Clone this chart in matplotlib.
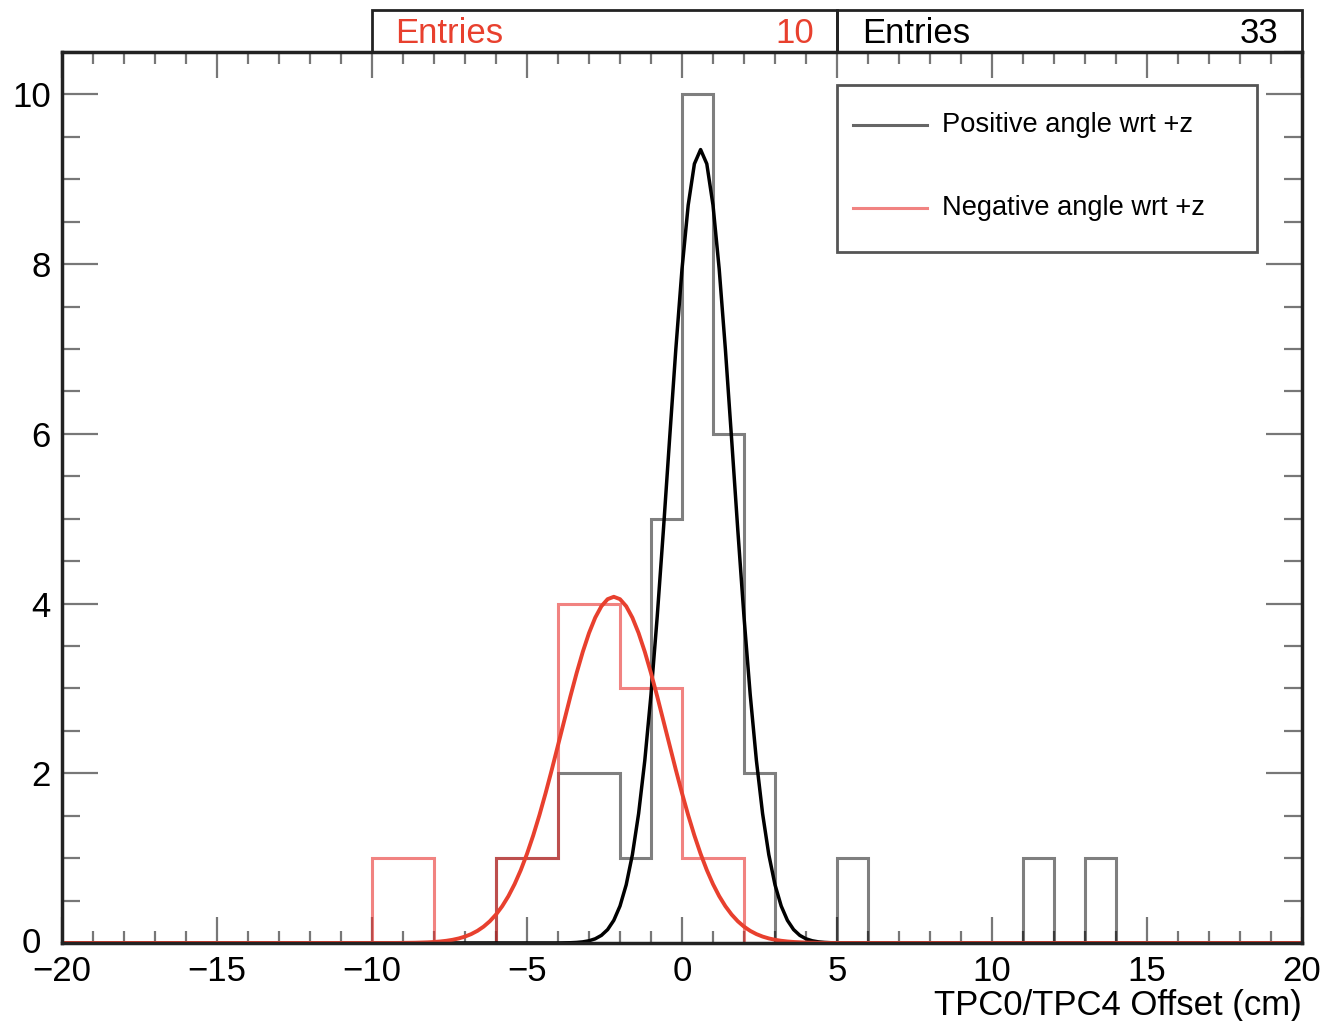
import numpy as np
import matplotlib.pyplot as plt
from matplotlib.patches import Rectangle
from matplotlib.ticker import MultipleLocator
import matplotlib.transforms as mtransforms

plt.rcParams['font.family'] = ['Liberation Sans', 'DejaVu Sans']

# histogram binning
edges_pos = np.arange(-20, 21, 1)   # 40 bins, width 1
edges_neg = np.arange(-20, 21, 2)   # 20 bins, width 2

# counts, positive angle (black), bins -20..20 step 1
counts_pos = [0, 0, 0, 0, 0, 0, 0, 0, 0, 0,
              0, 0, 0, 0, 1, 1, 2, 2, 1, 5,
              10, 6, 2, 0, 0, 1, 0, 0, 0, 0,
              0, 1, 0, 1, 0, 0, 0, 0, 0, 0]
# counts, negative angle (red), bins -20..20 step 2
counts_neg = [0, 0, 0, 0, 0, 1, 0, 1, 4, 3,
              1, 0, 0, 0, 0, 0, 0, 0, 0, 0]

# gaussian fit parameters (amplitude, mean, sigma)
fit_pos = (9.35, 0.6, 1.05)
fit_neg = (4.08, -2.2, 1.7)

entries_pos = 33
entries_neg = 10
labels = ["Positive angle wrt +z", "Negative angle wrt +z"]

red = '#e8402e'

fig = plt.figure(figsize=(13.22, 10.21), dpi=100)
ax = fig.add_axes([62/1322, 1-943/1021, (1302-62)/1322, (943-52)/1021])

ax.stairs(counts_pos, edges_pos, color='black', alpha=0.5, lw=2.2, zorder=2)
ax.stairs(counts_neg, edges_neg, color='#e8302e', alpha=0.6, lw=2.2, zorder=3)

def gaus(x, p):
    a, m, s = p
    return a * np.exp(-0.5 * ((x - m) / s) ** 2)

xf = np.linspace(-20, 20, 201)
ax.plot(xf, gaus(xf, fit_pos), color='black', lw=2.5, zorder=4)
ax.plot(xf, gaus(xf, fit_neg), color=red, lw=2.8, zorder=5)

ax.set_xlim(-20, 20)
ax.set_ylim(0, 10.5)

ax.xaxis.set_major_locator(MultipleLocator(5))
ax.xaxis.set_minor_locator(MultipleLocator(1))
ax.yaxis.set_major_locator(MultipleLocator(2))
ax.yaxis.set_minor_locator(MultipleLocator(0.5))

ax.tick_params(axis='both', which='both', direction='in', top=True, right=True,
               color='#777777', width=1.6, labelsize=25, colors='#777777',
               labelcolor='black')
ax.tick_params(axis='x', which='major', length=18.7, pad=8.5)
ax.tick_params(axis='x', which='minor', length=8.6)
ax.tick_params(axis='y', which='major', length=26, pad=8)
ax.tick_params(axis='y', which='minor', length=13)

for sp in ax.spines.values():
    sp.set_linewidth(2.5)
    sp.set_color('#222222')
    sp.set_zorder(6)

# the "0" on the y axis sits a bit further left, as in ROOT
fig.canvas.draw()
for t in ax.yaxis.get_major_ticks():
    if abs(t.get_loc()) < 1e-9:
        t.label1.set_transform(t.label1.get_transform() +
                               mtransforms.ScaledTranslation(-0.1, 0.03, fig.dpi_scale_trans))

fig.text(1302/1322, 1-1005/1021, "TPC0/TPC4 Offset (cm)", fontsize=25,
         ha='right', va='center')

# stats boxes above the frame
trans = mtransforms.blended_transform_factory(ax.transData, ax.transAxes)
boxh = 42 / 891
ax.add_patch(Rectangle((-10, 1), 15, boxh, transform=trans, fill=False,
                       edgecolor='#222222', lw=2, clip_on=False))
ax.add_patch(Rectangle((5, 1), 15, boxh, transform=trans, fill=False,
                       edgecolor='#222222', lw=2, clip_on=False))
ty = 1 + boxh * 0.45
ax.text(-9.25, ty, "Entries", transform=trans, color=red, fontsize=25,
        ha='left', va='center')
ax.text(4.25, ty, str(entries_neg), transform=trans, color=red, fontsize=25,
        ha='right', va='center')
ax.text(5.8, ty, "Entries", transform=trans, color='black', fontsize=25,
        ha='left', va='center')
ax.text(19.25, ty, str(entries_pos), transform=trans, color='black', fontsize=25,
        ha='right', va='center')

# legend box
ax.add_patch(Rectangle((5, 8.14), 13.55, 1.97, fill=True, facecolor='white',
                       edgecolor='#555555', lw=2, zorder=7))
ax.plot([5.5, 7.9], [9.64, 9.64], color='black', alpha=0.6, lw=2.2, zorder=8)
ax.plot([5.5, 7.9], [8.66, 8.66], color='#e8302e', alpha=0.6, lw=2.2, zorder=8)
ax.text(8.4, 9.64, labels[0], fontsize=19.6, va='center', ha='left', zorder=8)
ax.text(8.4, 8.66, labels[1], fontsize=19.6, va='center', ha='left', zorder=8)

fig.savefig("out.png", dpi=100)
